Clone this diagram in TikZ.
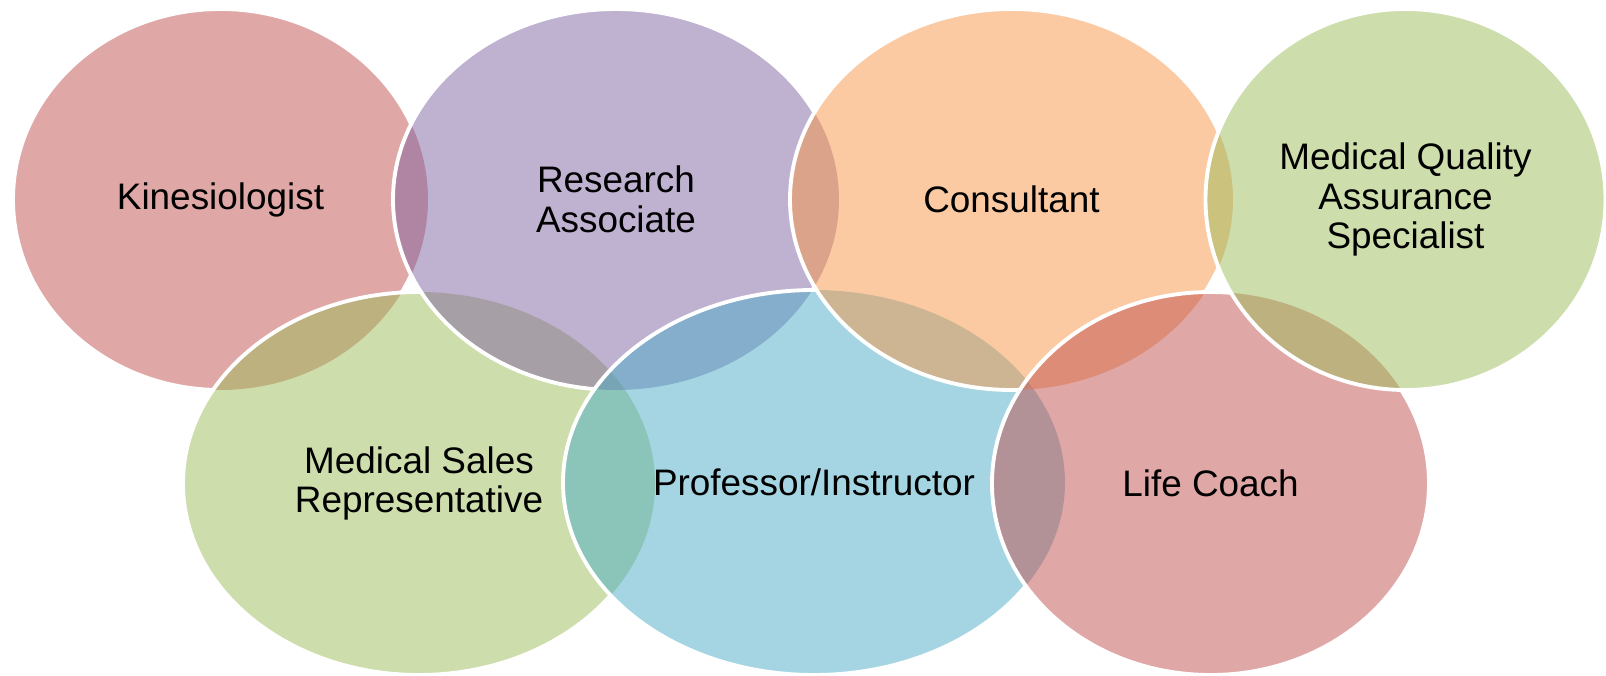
\documentclass[tikz,border=0pt]{standalone}
\usepackage{fontspec}
\setmainfont{Liberation Sans}

\definecolor{roseA}{HTML}{C0504D}
\definecolor{leafA}{HTML}{9BBB59}
\definecolor{plumA}{HTML}{8064A2}
\definecolor{skyA}{HTML}{4BACC6}
\definecolor{peachA}{HTML}{F79646}

\tikzset{
  bubble/.style={fill opacity=0.5},
  rim/.style={draw=white, line width=2.2pt},
  caption/.style={align=center, text=black, font=\fontsize{21}{22.5}\selectfont},
}

% outlines of the seven bubbles (pixel units, y grows downwards)
\newcommand{\kinesring}{(220.5,199.5) ellipse [x radius=207.5, y radius=190.5]}
\newcommand{\salesring}{(419,483.5) ellipse [x radius=236, y radius=191.5]}
\newcommand{\researchring}{(616,199.5) ellipse [x radius=223, y radius=190.5]}
\newcommand{\profring}{(814,482.5) ellipse [x radius=251, y radius=192.5]}
\newcommand{\consultring}{(1011.5,199.5) ellipse [x radius=221.5, y radius=190.5]}
\newcommand{\coachring}{(1210.5,483.5) ellipse [x radius=218.5, y radius=191.5]}
\newcommand{\qualityring}{(1405.5,199.5) ellipse [x radius=200, y radius=190.5]}
\newcommand{\outside}[1]{\clip (-50,-50) rectangle (1700,750) #1;}

\begin{document}
\begin{tikzpicture}[x=0.02cm, y=-0.02cm]
    \useasboundingbox (0,0) rectangle (1606,676);

    % Fill the bubbles, back to front
    \fill[bubble, fill=roseA] \kinesring;
    \fill[bubble, fill=leafA] \salesring;
    \fill[bubble, fill=plumA] \researchring;
    \fill[bubble, fill=skyA] \profring;
    \fill[bubble, fill=peachA] \consultring;
    \fill[bubble, fill=roseA] \coachring;
    \fill[bubble, fill=leafA] \qualityring;

    % White rims, hidden where a later bubble lies on top
    \begin{scope}[even odd rule]
        \outside{\salesring} \outside{\researchring} \outside{\profring}
        \outside{\consultring} \outside{\coachring} \outside{\qualityring}
        \draw[rim] \kinesring;
    \end{scope}
    \begin{scope}[even odd rule]
        \outside{\researchring} \outside{\profring} \outside{\consultring}
        \outside{\coachring} \outside{\qualityring}
        \draw[rim] \salesring;
    \end{scope}
    \begin{scope}[even odd rule]
        \outside{\profring} \outside{\consultring} \outside{\coachring}
        \outside{\qualityring}
        \draw[rim] \researchring;
    \end{scope}
    \begin{scope}[even odd rule]
        \outside{\consultring} \outside{\coachring} \outside{\qualityring}
        \draw[rim] \profring;
    \end{scope}
    \begin{scope}[even odd rule]
        \outside{\coachring} \outside{\qualityring}
        \draw[rim] \consultring;
    \end{scope}
    \begin{scope}[even odd rule]
        \outside{\qualityring}
        \draw[rim] \coachring;
    \end{scope}
    \draw[rim] \qualityring;

    % Job titles
    \node[caption] (kines) at (220.5,199.5) {Kinesiologist};
    \node[caption] (research) at (616,199.5) {Research\\Associate};
    \node[caption] (consult) at (1011.5,199.5) {Consultant};
    \node[caption] (quality) at (1405.5,199.5) {Medical Quality\\Assurance\\Specialist};
    \node[caption] (sales) at (419,483.5) {Medical Sales\\Representative};
    \node[caption] (prof) at (814,482.5) {Professor/Instructor};
    \node[caption] (coach) at (1210.5,483.5) {Life Coach};
\end{tikzpicture}
\end{document}
